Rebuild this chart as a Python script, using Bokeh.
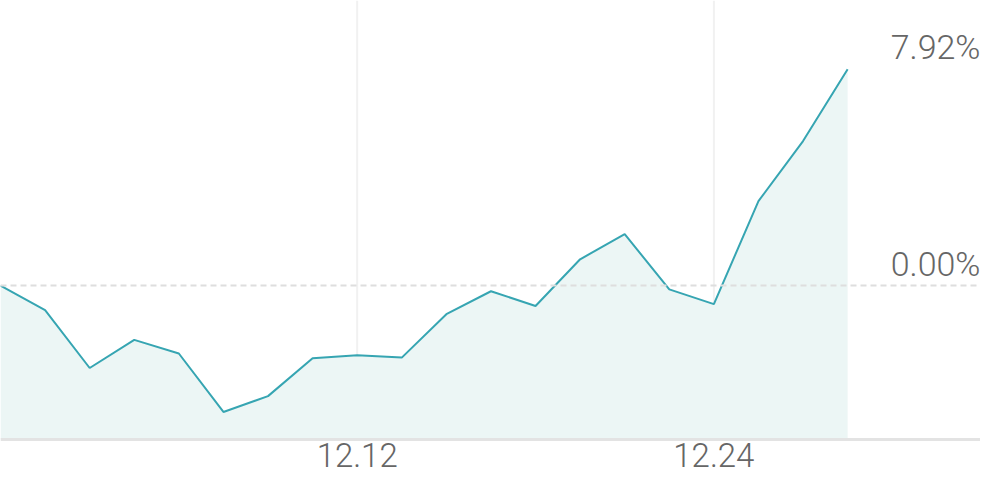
from bokeh.plotting import figure
from bokeh.models import Range1d, LinearAxis, FixedTicker, Span, ColumnDataSource
from bokeh.core.properties import value
from bokeh.embed import file_html
from bokeh.resources import INLINE

# ---- data ----
returns = [0.00, -0.90, -3.02, -1.99, -2.49, -4.63, -4.05, -2.66, -2.55, -2.64,
           -1.05, -0.21, -0.75, 0.96, 1.88, -0.14, -0.68, 3.09, 5.29, 7.92]
x_ticks = [8, 16]
x_tick_labels = ["12.12", "12.24"]
y_floor = -5.64  # value at the chart's baseline

idx = list(range(len(returns)))

FONT_NAME = "Roboto Light"
TEXT_COLOR = "#666666"
X_END = 21.98
Y_TOP = 10.436

p = figure(width=980, height=474, output_backend="svg", toolbar_location=None,
           x_range=Range1d(0, X_END), y_range=Range1d(-6.92, Y_TOP),
           min_border=0, outline_line_color=None,
           x_axis_type=None, y_axis_type=None)
p.xgrid.visible = False
p.ygrid.visible = False
p.background_fill_color = "white"
p.border_fill_color = "white"

# vertical guide lines at date ticks
p.segment(x0=x_ticks, y0=[y_floor] * len(x_ticks), x1=x_ticks, y1=[Y_TOP] * len(x_ticks),
          line_color="#f1f1f1", line_width=2)

# area + line
p.varea(x=idx, y1=[y_floor] * len(idx), y2=returns, fill_color="#ecf6f5")
p.line(idx, returns, line_color="#36a5b2", line_width=2)

# zero dashed line
p.add_layout(Span(location=0, dimension="width", line_color="#dedede",
                  line_width=2, line_dash="6 4"))

# right labels for 0 and max
lab_vals = [0.0, max(returns)]
src = ColumnDataSource(dict(x=[X_END, X_END], y=lab_vals,
                            t=["%.2f%%" % v for v in lab_vals]))
p.text(x="x", y="y", text="t", source=src, text_align="right",
       text_baseline="alphabetic", y_offset=-22, text_font=value(FONT_NAME),
       text_font_size="34px", text_color=TEXT_COLOR)

# bottom axis at baseline
xa = LinearAxis(fixed_location=y_floor, ticker=FixedTicker(ticks=x_ticks),
                major_label_overrides={t: l for t, l in zip(x_ticks, x_tick_labels)},
                axis_line_color="#e3e3e3", axis_line_width=3,
                major_tick_line_color=None, minor_tick_line_color=None,
                major_tick_out=0, major_tick_in=0, major_label_standoff=3,
                major_label_text_font=FONT_NAME, major_label_text_font_size="33px",
                major_label_text_color=TEXT_COLOR)
p.add_layout(xa, "below")

open("out.html", "w").write(file_html(p, INLINE))
